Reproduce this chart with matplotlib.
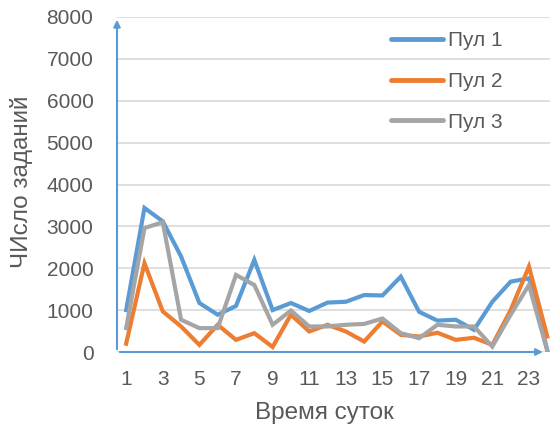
import matplotlib
matplotlib.use('Agg')
import matplotlib.pyplot as plt

plt.rcParams['font.family'] = ['Liberation Sans', 'DejaVu Sans']

hours = list(range(1, 25))
pool1 = [1000, 3440, 3120, 2280, 1170, 890, 1100, 2200, 1000, 1170, 980, 1180,
         1200, 1360, 1350, 1800, 960, 750, 770, 530, 1200, 1680, 1760, 50]
pool2 = [200, 2120, 970, 610, 170, 650, 290, 450, 120, 890, 490, 650,
         490, 250, 730, 410, 370, 460, 290, 340, 170, 1000, 2040, 370]
pool3 = [570, 2960, 3100, 770, 570, 570, 1840, 1600, 650, 990, 610, 610,
         650, 670, 800, 450, 330, 650, 610, 610, 130, 890, 1600, 30]
names = ['Пул 1', 'Пул 2', 'Пул 3']
colors = ['#5B9BD5', '#ED7D31', '#A5A5A5']
xticks = list(range(1, 24, 2))
yticks = list(range(0, 8001, 1000))

fig = plt.figure(figsize=(5.5, 4.3), dpi=100)
ax = fig.add_axes([117 / 550, 1 - 352 / 430, 433 / 550, 335 / 430])

for vals, name, c in zip([pool1, pool2, pool3], names, colors):
    ax.plot(hours, vals, color=c, lw=3, label=name, solid_joinstyle='miter', zorder=3)

ax.set_xlim(0.5, 24.15)
ax.set_ylim(0, 8000)
ax.set_xticks(xticks)
ax.set_yticks(yticks)
ax.tick_params(length=0, labelsize=15, labelcolor='#595959')
ax.tick_params(axis='y', pad=17)
ax.tick_params(axis='x', pad=13)
ax.grid(axis='y', color='#D9D9D9', lw=1.2, zorder=0)
for s in ax.spines.values():
    s.set_visible(False)

# оси со стрелками
ax.annotate('', xy=(0, 1.0), xytext=(0, 0), xycoords='axes fraction',
            arrowprops=dict(arrowstyle='-|>', color='#5B9BD5', lw=1.5, mutation_scale=10),
            annotation_clip=False)
ax.annotate('', xy=(0.99, 0), xytext=(0, 0), xycoords='axes fraction',
            arrowprops=dict(arrowstyle='-|>', color='#5B9BD5', lw=1.5, mutation_scale=10),
            annotation_clip=False)

fig.text(324 / 550, 1 - 413 / 430, 'Время суток', fontsize=17.5, color='#595959',
         ha='center', va='center')
fig.text(22 / 550, 1 - 182 / 430, 'ЧИсло заданий', fontsize=17.5, color='#595959',
         ha='center', va='center', rotation=90)

leg = ax.legend(loc='upper left', bbox_to_anchor=(391 / 550, 1 - 31 / 430),
                bbox_transform=fig.transFigure, frameon=False, fontsize=15,
                handlelength=2.5, handletextpad=0.25, labelspacing=1.05, borderpad=0,
                borderaxespad=0, labelcolor='#595959')
for h in leg.get_lines():
    h.set_linewidth(3.5)
    h.set_solid_capstyle('round')

fig.savefig('out.png', dpi=100)
